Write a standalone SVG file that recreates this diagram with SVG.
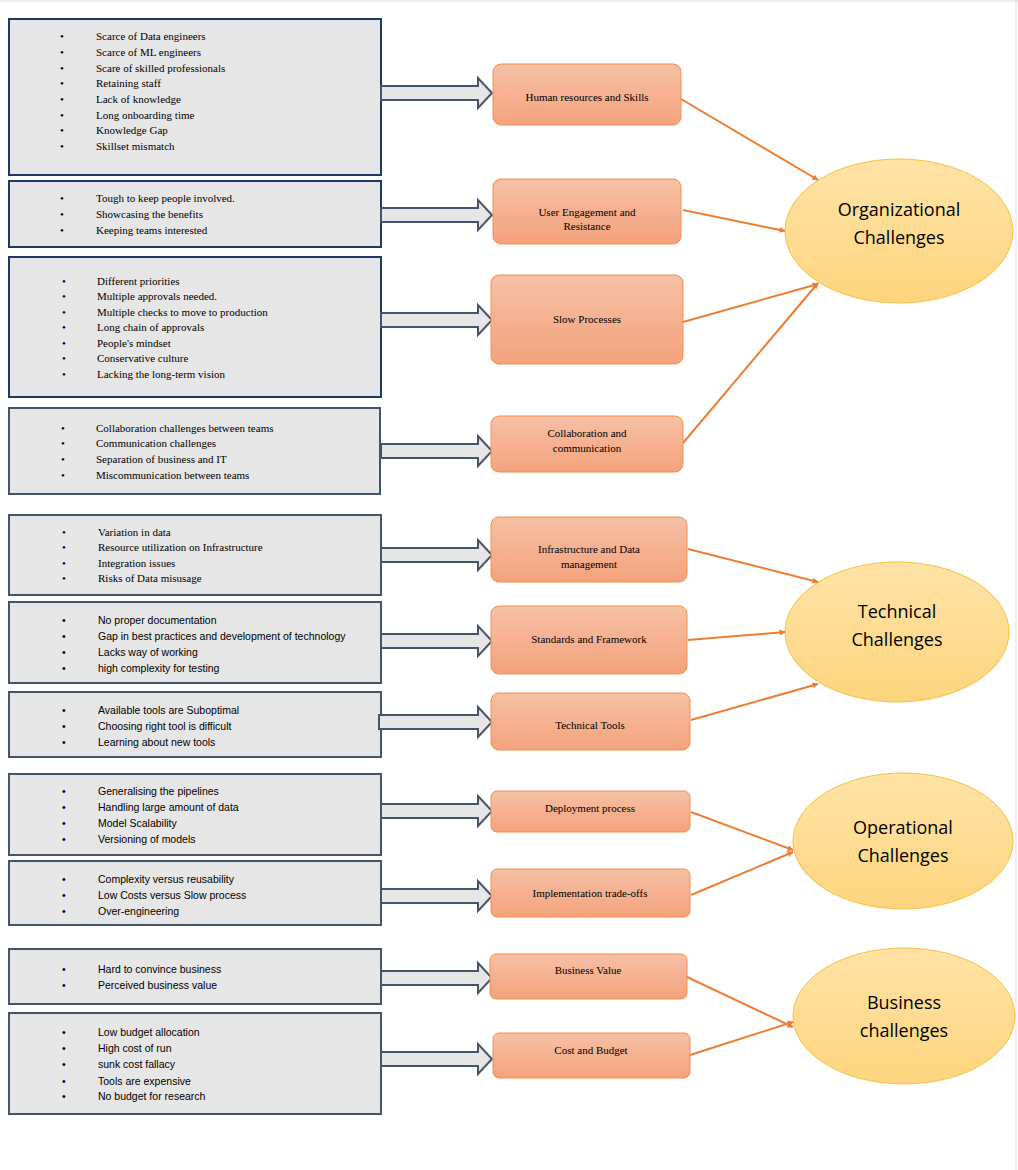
<svg xmlns="http://www.w3.org/2000/svg" width="1018" height="1170" viewBox="0 0 1018 1170">
<defs>
<linearGradient id="og" x1="0" y1="0" x2="0" y2="1"><stop offset="0" stop-color="#f7c0a6"/><stop offset="1" stop-color="#f4a27c"/></linearGradient>
<linearGradient id="yg" x1="0" y1="0" x2="0" y2="1"><stop offset="0" stop-color="#ffe3a6"/><stop offset="1" stop-color="#fed57e"/></linearGradient>
<marker id="ah" viewBox="0 0 10 10" refX="9" refY="5" markerWidth="6" markerHeight="6" orient="auto" markerUnits="userSpaceOnUse" style="overflow:visible"><path d="M0,0 L10,5 L0,10 z" fill="#ed7d31"/></marker>
</defs>
<style>
.lb{fill:#e6e6e6;stroke:#44546a;stroke-width:2}
.lb1{fill:#e6e6e6;stroke:#1f3864;stroke-width:2}
.s{font-family:"Liberation Serif",serif;font-size:11px;fill:#000}
.ss{font-family:"Liberation Sans",sans-serif;font-size:10.5px;fill:#000}
.ob{fill:url(#og);stroke:#f0904f;stroke-width:1}
.oc{font-family:"Liberation Serif",serif;font-size:11px;fill:#000;text-anchor:middle}
.el{fill:url(#yg);stroke:#f5c242;stroke-width:1}
.et{font-family:"Open Sans",sans-serif;font-size:18px;fill:#000;text-anchor:middle}
.ba{fill:#e6e6e6;stroke:#44546a;stroke-width:2}
.cn{stroke:#ed7d31;stroke-width:2;fill:none;marker-end:url(#ah)}
</style>
<rect width="1018" height="1170" fill="#fff"/>
<line x1="0" y1="1" x2="1018" y2="1" stroke="#ddd"/>
<line x1="1016" y1="0" x2="1016" y2="1170" stroke="#ddd"/>

<g id="list1"><rect class="lb1" x="9" y="19" width="372" height="156"/>
<g class="s"><text x="60" y="40">•</text><text x="96" y="40">Scarce of Data engineers</text>
<text x="60" y="56">•</text><text x="96" y="56">Scarce of ML engineers</text>
<text x="60" y="72">•</text><text x="96" y="72">Scare of skilled professionals</text>
<text x="60" y="87">•</text><text x="96" y="87">Retaining staff</text>
<text x="60" y="103">•</text><text x="96" y="103">Lack of knowledge</text>
<text x="60" y="119">•</text><text x="96" y="119">Long onboarding time</text>
<text x="60" y="134">•</text><text x="96" y="134">Knowledge Gap</text>
<text x="60" y="150">•</text><text x="96" y="150">Skillset mismatch</text></g></g>

<g id="list2"><rect class="lb1" x="9" y="181" width="372" height="66"/>
<g class="s"><text x="60" y="202">•</text><text x="96" y="202">Tough to keep people involved.</text>
<text x="60" y="218">•</text><text x="96" y="218">Showcasing the benefits</text>
<text x="60" y="234">•</text><text x="96" y="234">Keeping teams interested</text></g></g>

<g id="list3"><rect class="lb1" x="9" y="257" width="372" height="140"/>
<g class="s"><text x="62" y="285">•</text><text x="97" y="285">Different priorities</text>
<text x="62" y="300">•</text><text x="97" y="300">Multiple approvals needed.</text>
<text x="62" y="316">•</text><text x="97" y="316">Multiple checks to move to production</text>
<text x="62" y="331">•</text><text x="97" y="331">Long chain of approvals</text>
<text x="62" y="347">•</text><text x="97" y="347">People's mindset</text>
<text x="62" y="362">•</text><text x="97" y="362">Conservative culture</text>
<text x="62" y="378">•</text><text x="97" y="378">Lacking the long-term vision</text></g></g>

<g id="list4"><rect class="lb" x="9" y="408" width="371" height="86"/>
<g class="s"><text x="61" y="432">•</text><text x="96" y="432">Collaboration challenges between teams</text>
<text x="61" y="447">•</text><text x="96" y="447">Communication challenges</text>
<text x="61" y="463">•</text><text x="96" y="463">Separation of business and IT</text>
<text x="61" y="479">•</text><text x="96" y="479">Miscommunication between teams</text></g></g>

<g id="list5"><rect class="lb" x="9" y="515" width="372" height="80"/>
<g class="s"><text x="62" y="536">•</text><text x="98" y="536">Variation in data</text>
<text x="62" y="551">•</text><text x="98" y="551">Resource utilization on Infrastructure</text>
<text x="62" y="567">•</text><text x="98" y="567">Integration issues</text>
<text x="62" y="582">•</text><text x="98" y="582">Risks of Data misusage</text></g></g>

<g id="list6"><rect class="lb" x="9" y="602" width="372" height="81"/>
<g class="ss"><text x="62" y="624">•</text><text x="98" y="624">No proper documentation</text>
<text x="62" y="640">•</text><text x="98" y="640">Gap in best practices and development of technology</text>
<text x="62" y="656">•</text><text x="98" y="656">Lacks way of working</text>
<text x="62" y="672">•</text><text x="98" y="672">high complexity for testing</text></g></g>

<g id="list7"><rect class="lb" x="9" y="692" width="372" height="65"/>
<g class="ss"><text x="62" y="714">•</text><text x="98" y="714">Available tools are Suboptimal</text>
<text x="62" y="730">•</text><text x="98" y="730">Choosing right tool is difficult</text>
<text x="62" y="746">•</text><text x="98" y="746">Learning about new tools</text></g></g>

<g id="list8"><rect class="lb" x="9" y="774" width="372" height="81"/>
<g class="ss"><text x="62" y="795">•</text><text x="98" y="795">Generalising the pipelines</text>
<text x="62" y="811">•</text><text x="98" y="811">Handling large amount of data</text>
<text x="62" y="827">•</text><text x="98" y="827">Model Scalability</text>
<text x="62" y="843">•</text><text x="98" y="843">Versioning of models</text></g></g>

<g id="list9"><rect class="lb" x="9" y="861" width="372" height="64"/>
<g class="ss"><text x="62" y="883">•</text><text x="98" y="883">Complexity versus reusability</text>
<text x="62" y="899">•</text><text x="98" y="899">Low Costs versus Slow process</text>
<text x="62" y="915">•</text><text x="98" y="915">Over-engineering</text></g></g>

<g id="list10"><rect class="lb" x="9" y="949" width="372" height="55"/>
<g class="ss"><text x="62" y="973">•</text><text x="98" y="973">Hard to convince business</text>
<text x="62" y="989">•</text><text x="98" y="989">Perceived business value</text></g></g>

<g id="list11"><rect class="lb" x="9" y="1013" width="372" height="101"/>
<g class="ss"><text x="62" y="1036">•</text><text x="98" y="1036">Low budget allocation</text>
<text x="62" y="1052">•</text><text x="98" y="1052">High cost of run</text>
<text x="62" y="1068">•</text><text x="98" y="1068">sunk cost fallacy</text>
<text x="62" y="1085">•</text><text x="98" y="1085">Tools are expensive</text>
<text x="62" y="1100">•</text><text x="98" y="1100">No budget for research</text></g></g>

<g id="block-arrows">
<path class="ba" d="M381,86 h97 v-8 l14,15 l-14,15 v-8 h-97 z"/>
<path class="ba" d="M381,208 h97 v-8 l14,15 l-14,15 v-8 h-97 z"/>
<path class="ba" d="M381,313 h97 v-8 l14,15 l-14,15 v-8 h-97 z"/>
<path class="ba" d="M381,444 h97 v-8 l14,15 l-14,15 v-8 h-97 z"/>
<path class="ba" d="M381,548 h97 v-8 l14,15 l-14,15 v-8 h-97 z"/>
<path class="ba" d="M381,634 h97 v-8 l14,15 l-14,15 v-8 h-97 z"/>
<path class="ba" d="M379,715 h99 v-8 l14,15 l-14,15 v-8 h-99 z"/>
<path class="ba" d="M381,804 h97 v-8 l14,15 l-14,15 v-8 h-97 z"/>
<path class="ba" d="M381,889 h97 v-8 l14,15 l-14,15 v-8 h-97 z"/>
<path class="ba" d="M381,971 h97 v-8 l14,15 l-14,15 v-8 h-97 z"/>
<path class="ba" d="M381,1052 h97 v-8 l14,15 l-14,15 v-8 h-97 z"/>
</g>

<g id="hr"><rect class="ob" x="493" y="64" width="188" height="61" rx="8"/><text class="oc" x="587" y="101">Human resources and Skills</text></g>
<g id="ue"><rect class="ob" x="493" y="179" width="188" height="65" rx="8"/><text class="oc" x="587" y="216">User Engagement and</text><text class="oc" x="587" y="230">Resistance</text></g>
<g id="slow"><rect class="ob" x="491" y="275" width="192" height="89" rx="8"/><text class="oc" x="587" y="323">Slow Processes</text></g>
<g id="collab"><rect class="ob" x="491" y="416" width="192" height="56" rx="8"/><text class="oc" x="587" y="437">Collaboration and</text><text class="oc" x="587" y="452">communication</text></g>
<g id="infra"><rect class="ob" x="491" y="517" width="196" height="65" rx="8"/><text class="oc" x="589" y="553">Infrastructure and Data</text><text class="oc" x="589" y="568">management</text></g>
<g id="std"><rect class="ob" x="491" y="606" width="196" height="68" rx="8"/><text class="oc" x="589" y="643">Standards and Framework</text></g>
<g id="tools"><rect class="ob" x="491" y="693" width="199" height="57" rx="8"/><text class="oc" x="590" y="729">Technical Tools</text></g>
<g id="deploy"><rect class="ob" x="491" y="791" width="199" height="41" rx="6"/><text class="oc" x="590" y="812">Deployment process</text></g>
<g id="impl"><rect class="ob" x="491" y="869" width="199" height="48" rx="6"/><text class="oc" x="590" y="897">Implementation trade-offs</text></g>
<g id="bv"><rect class="ob" x="490" y="954" width="197" height="45" rx="6"/><text class="oc" x="588" y="974">Business Value</text></g>
<g id="cost"><rect class="ob" x="493" y="1033" width="197" height="45" rx="6"/><text class="oc" x="591" y="1054">Cost and Budget</text></g>

<g id="org"><ellipse class="el" cx="899" cy="231" rx="114" ry="72"/><text class="et" x="899" y="216">Organizational</text><text class="et" x="899" y="244">Challenges</text></g>
<g id="tech"><ellipse class="el" cx="897" cy="632" rx="112" ry="70"/><text class="et" x="897" y="618">Technical</text><text class="et" x="897" y="646">Challenges</text></g>
<g id="op"><ellipse class="el" cx="903" cy="841" rx="110" ry="68"/><text class="et" x="903" y="834">Operational</text><text class="et" x="903" y="862">Challenges</text></g>
<g id="bus"><ellipse class="el" cx="904" cy="1016" rx="111" ry="68"/><text class="et" x="904" y="1009">Business</text><text class="et" x="904" y="1037">challenges</text></g>

<g id="connectors">
<line class="cn" x1="681" y1="99" x2="818" y2="180"/>
<line class="cn" x1="683" y1="210" x2="785" y2="231"/>
<line class="cn" x1="683" y1="322" x2="818" y2="284"/>
<line class="cn" x1="683" y1="443" x2="818" y2="283"/>
<line class="cn" x1="688" y1="549" x2="818" y2="582"/>
<line class="cn" x1="688" y1="640" x2="785" y2="632"/>
<line class="cn" x1="691" y1="720" x2="818" y2="684"/>
<line class="cn" x1="691" y1="812" x2="793" y2="850"/>
<line class="cn" x1="691" y1="895" x2="793" y2="852"/>
<line class="cn" x1="687" y1="977" x2="793" y2="1027"/>
<line class="cn" x1="690" y1="1055" x2="793" y2="1022"/>
</g>
</svg>
